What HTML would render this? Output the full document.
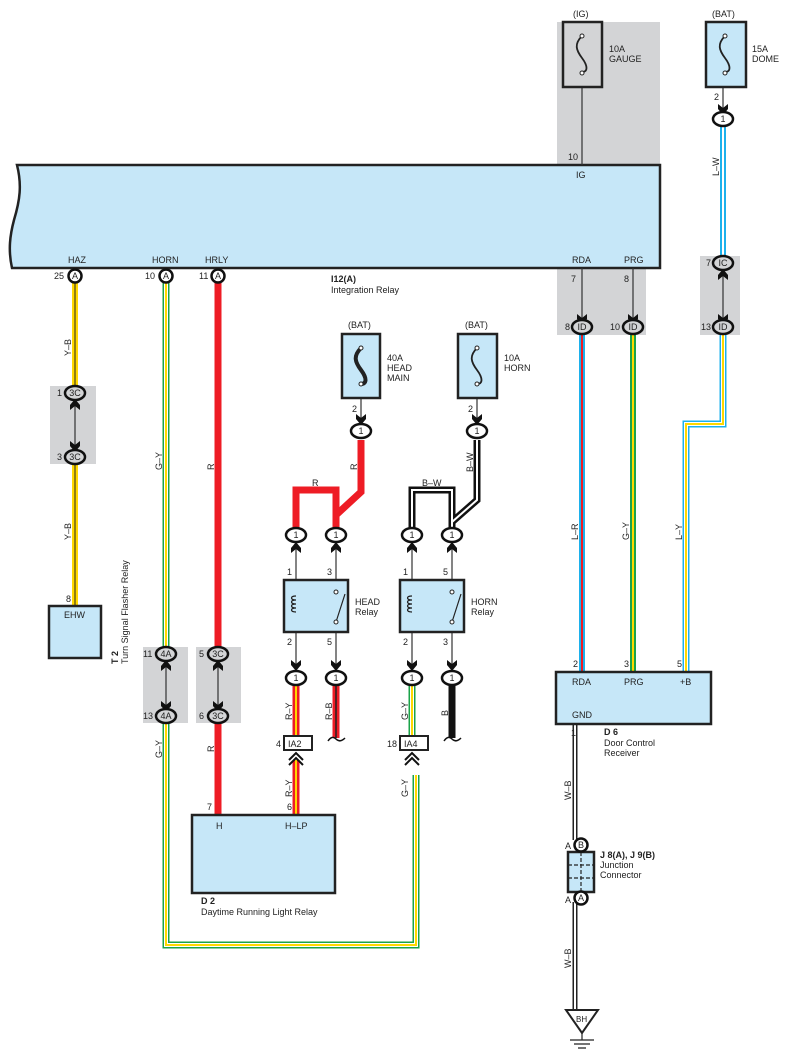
<!DOCTYPE html>
<html><head><meta charset="utf-8"><style>
html,body{margin:0;padding:0;background:#fff}
svg{display:block}
text{font-family:"Liberation Sans",sans-serif;font-size:9px;fill:#222}
.b{font-weight:bold}
</style></head><body>
<svg width="788" height="1062" viewBox="0 0 788 1062" xmlns="http://www.w3.org/2000/svg">
<defs>
<path id="dn" d="M-5,-8 L0,-4 L5,-8 L5,-3 L0,3 L-5,-3 Z" fill="#111"/>
<path id="up" d="M-5,8 L0,4 L5,8 L5,3 L0,-3 L-5,3 Z" fill="#111"/>
</defs>
<g fill="#d3d4d6">
<rect x="557" y="22" width="103" height="143"/>
<rect x="557" y="268" width="89" height="67"/>
<rect x="700" y="256" width="40" height="79"/>
<rect x="50" y="386" width="46" height="78"/>
<rect x="143" y="647" width="45" height="76"/>
<rect x="196" y="647" width="45" height="76"/>
</g>
<path d="M17,165 L660,165 L660,268 L12,268 C8,250 10,235 14,220 C20,200 22,185 17,165 Z" fill="#c6e7f8" stroke="#222" stroke-width="2.5"/>
<text x="68" y="263">HAZ</text><text x="152" y="263">HORN</text><text x="205" y="263">HRLY</text>
<text x="572" y="263">RDA</text><text x="624" y="263">PRG</text><text x="576" y="178">IG</text>
<text x="568" y="160">10</text>
<text x="331" y="282" class="b">I12(A)</text><text x="331" y="293">Integration Relay</text>

<g fill="none" stroke-linejoin="miter">
<path d="M75,283 V386 M75,464 V606" stroke="#ffd800" stroke-width="6"/><path d="M75,283 V386 M75,464 V606" stroke="#222" stroke-width="1"/>
<path d="M166,283 V647 M166,723 V945 H416 V775" stroke="#1ba34a" stroke-width="7"/>
<path d="M166,283 V647 M166,723 V945 H416 V775" stroke="#fff" stroke-width="4"/>
<path d="M166,283 V647 M166,723 V945 H416 V775" stroke="#ffd800" stroke-width="2"/>
<path d="M218,283 V647 M218,723 V815" stroke="#ee1c25" stroke-width="7"/>
<path d="M361,440 V492 L336,515 V528 M296,528 V490 H336 V515" stroke="#ee1c25" stroke-width="7"/>
<path d="M477,440 V500 L452,522 V528 M412,528 V490 H452 V522" stroke="#111" stroke-width="7"/>
<path d="M477,440 V500 L452,522 V528 M412,528 V490 H452 V522" stroke="#fff" stroke-width="2"/>
<path d="M296,685 V735 M296,760 V815" stroke="#ee1c25" stroke-width="7"/>
<path d="M296,685 V735 M296,760 V815" stroke="#ffd800" stroke-width="2"/>
<path d="M336,685 V738" stroke="#ee1c25" stroke-width="7"/><path d="M336,685 V738" stroke="#222" stroke-width="1.5"/>
<path d="M412,685 V735" stroke="#1ba34a" stroke-width="7"/><path d="M412,685 V735" stroke="#fff" stroke-width="4"/><path d="M412,685 V735" stroke="#ffd800" stroke-width="2"/>
<path d="M452,685 V738" stroke="#111" stroke-width="7"/>
<path d="M582,335 V672" stroke="#1cb1ec" stroke-width="6"/><path d="M582,335 V672" stroke="#ee1c25" stroke-width="2"/>
<path d="M633,335 V672" stroke="#1ba34a" stroke-width="6"/><path d="M633,335 V672" stroke="#ffd800" stroke-width="2"/>
<path d="M723,126 V258" stroke="#1cb1ec" stroke-width="6"/><path d="M723,126 V258" stroke="#fff" stroke-width="2"/>
<path d="M723,335 V424 H686 V672" stroke="#1cb1ec" stroke-width="7"/><path d="M723,335 V424 H686 V672" stroke="#fff" stroke-width="4"/><path d="M723,335 V424 H686 V672" stroke="#ffd800" stroke-width="2"/>
<path d="M575,724 V840 M575,902 V1010" stroke="#222" stroke-width="5"/><path d="M575,724 V840 M575,902 V1010" stroke="#fff" stroke-width="2"/>
</g>
<path d="M328,741 q4,-6 8,-2 q4,4 9,-1" fill="none" stroke="#111" stroke-width="1.5"/>
<path d="M444,741 q4,-6 8,-2 q4,4 9,-1" fill="none" stroke="#111" stroke-width="1.5"/>

<g stroke="#333" stroke-width="1.2" fill="none">
<path d="M582,84 V165 M582,268 V322 M633,268 V322"/>
<path d="M723,84 V110 M723,270 V322 M75,399 V450 M166,660 V710 M218,660 V710"/>
<path d="M361,395 V418 M477,395 V418"/>
<path d="M296,540 V670 M336,540 V670 M412,540 V670 M452,540 V670"/>
</g>

<g stroke="#222" stroke-width="2.5" fill="#c6e7f8">
<rect x="563" y="22" width="39" height="65" fill="#d3d4d6"/>
<rect x="706" y="22" width="40" height="65"/>
<rect x="342" y="334" width="38" height="64"/>
<rect x="458" y="334" width="39" height="64"/>
</g>
<g stroke="#222" stroke-width="1.8" fill="none">
<path d="M582,36 c-8,8 -6,14 0,22 c6,8 6,14 0,14"/>
<path d="M725,36 c-8,8 -6,14 0,22 c6,8 6,14 0,14"/>
<path d="M477,348 c-8,8 -6,14 0,22 c6,8 6,14 0,14"/>
<path d="M361,348 c-8,8 -6,14 0,22 c6,8 6,14 0,14" stroke-width="4"/>
</g>
<g fill="#fff" stroke="#222" stroke-width="1"><circle cx="582" cy="36" r="2"/><circle cx="582" cy="73" r="2"/><circle cx="725" cy="36" r="2"/><circle cx="725" cy="73" r="2"/><circle cx="477" cy="348" r="2"/><circle cx="477" cy="384" r="2"/><circle cx="361" cy="348" r="2"/><circle cx="361" cy="384" r="2"/></g>
<text x="573" y="17">(IG)</text><text x="712" y="17">(BAT)</text><text x="348" y="328">(BAT)</text><text x="465" y="328">(BAT)</text>
<text x="609" y="52">10A</text><text x="609" y="62">GAUGE</text>
<text x="752" y="52">15A</text><text x="752" y="62">DOME</text>
<text x="387" y="361">40A</text><text x="387" y="371">HEAD</text><text x="387" y="381">MAIN</text>
<text x="504" y="361">10A</text><text x="504" y="371">HORN</text>

<g stroke="#222" stroke-width="2.5" fill="#c6e7f8">
<rect x="284" y="580" width="64" height="52"/><rect x="400" y="580" width="64" height="52"/>
<rect x="49" y="606" width="52" height="52"/>
<rect x="192" y="815" width="143" height="78"/>
<rect x="556" y="672" width="155" height="52"/>
<rect x="568" y="852" width="26" height="40"/>
</g>
<g stroke="#222" stroke-width="1.2" fill="none">
<path d="M296,596 c-6,0 -6,4 0,4 c-6,0 -6,4 0,4 c-6,0 -6,4 0,4 c-6,0 -6,4 0,4"/>
<path d="M412,596 c-6,0 -6,4 0,4 c-6,0 -6,4 0,4 c-6,0 -6,4 0,4 c-6,0 -6,4 0,4"/>
<path d="M336,622 L345,594 M452,622 L461,594"/>
<path d="M568,865 H594 M568,878 H594 M581,852 V892" stroke-dasharray="4,2"/>
</g>
<g fill="#fff" stroke="#222" stroke-width="1"><circle cx="336" cy="592" r="2"/><circle cx="336" cy="622" r="2"/><circle cx="452" cy="592" r="2"/><circle cx="452" cy="622" r="2"/></g>
<text x="355" y="605">HEAD</text><text x="355" y="615">Relay</text>
<text x="471" y="605">HORN</text><text x="471" y="615">Relay</text>
<text x="64" y="618">EHW</text><text x="66" y="602">8</text>
<text x="118" y="664" class="b" transform="rotate(-90 118 664)">T 2</text>
<text x="128" y="664" transform="rotate(-90 128 664)">Turn Signal Flasher Relay</text>
<text x="216" y="829">H</text><text x="285" y="829">H–LP</text><text x="207" y="810">7</text><text x="287" y="810">6</text>
<text x="201" y="904" class="b">D 2</text><text x="201" y="915">Daytime Running Light Relay</text>
<text x="572" y="685">RDA</text><text x="624" y="685">PRG</text><text x="680" y="685">+B</text><text x="572" y="718">GND</text>
<text x="573" y="667">2</text><text x="624" y="667">3</text><text x="677" y="667">5</text><text x="571" y="736">1</text>
<text x="604" y="735" class="b">D 6</text><text x="604" y="746">Door Control</text><text x="604" y="756">Receiver</text>
<text x="600" y="858" class="b">J 8(A), J 9(B)</text><text x="600" y="868">Junction</text><text x="600" y="878">Connector</text>
<text x="565" y="849">A</text><text x="565" y="903">A</text>

<text x="287" y="575">1</text><text x="327" y="575">3</text><text x="403" y="575">1</text><text x="443" y="575">5</text>
<text x="287" y="645">2</text><text x="327" y="645">5</text><text x="403" y="645">2</text><text x="443" y="645">3</text>
<text x="352" y="412">2</text><text x="468" y="412">2</text><text x="714" y="100">2</text>
<text x="571" y="282">7</text><text x="624" y="282">8</text>

<use href="#dn" x="361" y="422"/><use href="#dn" x="477" y="422"/><use href="#dn" x="723" y="112"/>
<use href="#dn" x="582" y="322"/><use href="#dn" x="633" y="322"/><use href="#dn" x="723" y="322"/>
<use href="#up" x="723" y="272"/><use href="#up" x="75" y="402"/><use href="#dn" x="75" y="449"/>
<use href="#up" x="166" y="663"/><use href="#dn" x="166" y="709"/><use href="#up" x="218" y="663"/><use href="#dn" x="218" y="709"/>
<use href="#up" x="296" y="545"/><use href="#up" x="336" y="545"/><use href="#up" x="412" y="545"/><use href="#up" x="452" y="545"/>
<use href="#dn" x="296" y="668"/><use href="#dn" x="336" y="668"/><use href="#dn" x="412" y="668"/><use href="#dn" x="452" y="668"/>
<path d="M289,760 L296,753 L303,760 M289,765 L296,758 L303,765 M405,760 L412,753 L419,760 M405,765 L412,758 L419,765" fill="none" stroke="#111" stroke-width="2"/>

<g fill="#fff" stroke="#222" stroke-width="2"><rect x="284" y="736" width="28" height="14"/><rect x="400" y="736" width="28" height="14"/></g>
<text x="288" y="747">IA2</text><text x="404" y="747">IA4</text><text x="276" y="747">4</text><text x="387" y="747">18</text>

<g fill="#fff" stroke="#111" stroke-width="2.5">
<circle cx="75" cy="276" r="6.5"/><circle cx="166" cy="276" r="6.5"/><circle cx="218" cy="276" r="6.5"/>
<ellipse cx="361" cy="431" rx="10" ry="7"/><ellipse cx="477" cy="431" rx="10" ry="7"/><ellipse cx="723" cy="119" rx="10" ry="7"/>
<ellipse cx="296" cy="535" rx="10" ry="7"/><ellipse cx="336" cy="535" rx="10" ry="7"/><ellipse cx="412" cy="535" rx="10" ry="7"/><ellipse cx="452" cy="535" rx="10" ry="7"/>
<ellipse cx="296" cy="678" rx="10" ry="7"/><ellipse cx="336" cy="678" rx="10" ry="7"/><ellipse cx="412" cy="678" rx="10" ry="7"/><ellipse cx="452" cy="678" rx="10" ry="7"/>
<ellipse cx="582" cy="327" rx="10" ry="7" fill="#d3d4d6"/><ellipse cx="633" cy="327" rx="10" ry="7" fill="#d3d4d6"/><ellipse cx="723" cy="327" rx="10" ry="7" fill="#d3d4d6"/><ellipse cx="723" cy="263" rx="10" ry="7" fill="#d3d4d6"/>
<ellipse cx="75" cy="393" rx="10" ry="7" fill="#d3d4d6"/><ellipse cx="75" cy="457" rx="10" ry="7" fill="#d3d4d6"/>
<ellipse cx="166" cy="654" rx="10" ry="7" fill="#d3d4d6"/><ellipse cx="166" cy="716" rx="10" ry="7" fill="#d3d4d6"/>
<ellipse cx="218" cy="654" rx="10" ry="7" fill="#d3d4d6"/><ellipse cx="218" cy="716" rx="10" ry="7" fill="#d3d4d6"/>
<circle cx="581" cy="845" r="6.5"/><circle cx="581" cy="898" r="6.5"/>
</g>
<g text-anchor="middle">
<text x="75" y="279">A</text><text x="166" y="279">A</text><text x="218" y="279">A</text>
<text x="361" y="434">1</text><text x="477" y="434">1</text><text x="723" y="122">1</text>
<text x="296" y="538">1</text><text x="336" y="538">1</text><text x="412" y="538">1</text><text x="452" y="538">1</text>
<text x="296" y="681">1</text><text x="336" y="681">1</text><text x="412" y="681">1</text><text x="452" y="681">1</text>
<text x="582" y="330">ID</text><text x="633" y="330">ID</text><text x="723" y="330">ID</text><text x="723" y="266">IC</text>
<text x="75" y="396">3C</text><text x="75" y="460">3C</text><text x="166" y="657">4A</text><text x="166" y="719">4A</text>
<text x="218" y="657">3C</text><text x="218" y="719">3C</text><text x="581" y="848">B</text><text x="581" y="901">A</text>
</g>
<text x="54" y="279">25</text><text x="145" y="279">10</text><text x="199" y="279">11</text>
<text x="565" y="330">8</text><text x="610" y="330">10</text><text x="701" y="330">13</text><text x="706" y="266">7</text>
<text x="57" y="396">1</text><text x="57" y="460">3</text><text x="143" y="657">11</text><text x="143" y="719">13</text><text x="199" y="657">5</text><text x="199" y="719">6</text>

<g>
<text x="71" y="356" transform="rotate(-90 71 356)">Y–B</text>
<text x="71" y="540" transform="rotate(-90 71 540)">Y–B</text>
<text x="162" y="470" transform="rotate(-90 162 470)">G–Y</text>
<text x="162" y="758" transform="rotate(-90 162 758)">G–Y</text>
<text x="214" y="470" transform="rotate(-90 214 470)">R</text>
<text x="214" y="752" transform="rotate(-90 214 752)">R</text>
<text x="357" y="470" transform="rotate(-90 357 470)">R</text>
<text x="312" y="486">R</text>
<text x="473" y="472" transform="rotate(-90 473 472)">B–W</text>
<text x="422" y="486">B–W</text>
<text x="292" y="720" transform="rotate(-90 292 720)">R–Y</text>
<text x="292" y="797" transform="rotate(-90 292 797)">R–Y</text>
<text x="332" y="720" transform="rotate(-90 332 720)">R–B</text>
<text x="408" y="720" transform="rotate(-90 408 720)">G–Y</text>
<text x="408" y="797" transform="rotate(-90 408 797)">G–Y</text>
<text x="448" y="716" transform="rotate(-90 448 716)">B</text>
<text x="578" y="540" transform="rotate(-90 578 540)">L–R</text>
<text x="629" y="540" transform="rotate(-90 629 540)">G–Y</text>
<text x="682" y="540" transform="rotate(-90 682 540)">L–Y</text>
<text x="719" y="176" transform="rotate(-90 719 176)">L–W</text>
<text x="571" y="800" transform="rotate(-90 571 800)">W–B</text>
<text x="571" y="968" transform="rotate(-90 571 968)">W–B</text>
</g>

<path d="M566,1010 H598 L582,1033 Z" fill="#fff" stroke="#222" stroke-width="2"/>
<text x="576" y="1022" style="font-size:8px">BH</text>
<path d="M582,1033 V1040 M570,1040 H594 M574,1044 H590 M578,1048 H586" stroke="#222" stroke-width="1.2"/>
</svg>
</body></html>
